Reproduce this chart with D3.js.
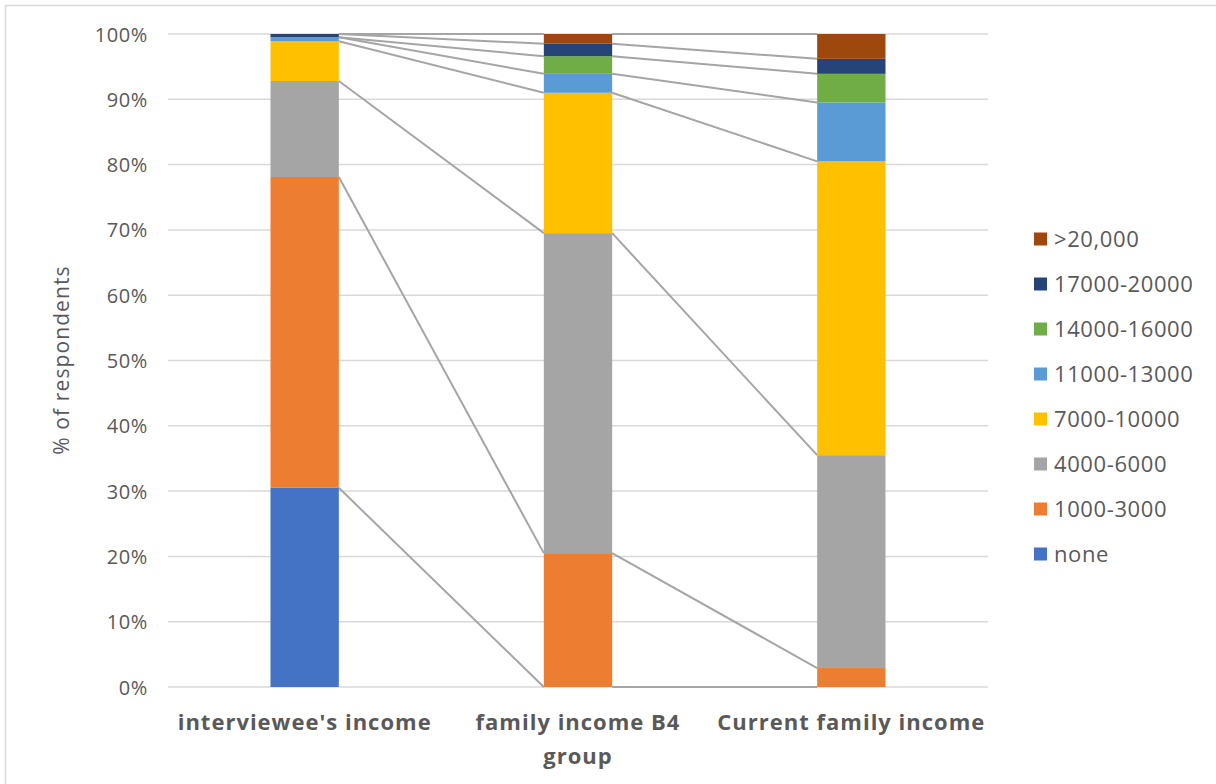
<!DOCTYPE html>
<html>
<head>
<meta charset="utf-8">
<script src="https://cdn.jsdelivr.net/npm/d3@7"></script>
<style>
  html, body { margin: 0; padding: 0; background: #fff; }
  svg { display: block; font-family: "Open Sans", "DejaVu Sans", sans-serif; }
</style>
</head>
<body>
<svg id="chart" width="1216" height="784"></svg>
<script>
// Income groups per bar (bottom to top), share of respondents in %
const categories = ["interviewee's income", "family income B4 group", "Current family income"];
const seriesNames = ["none", "1000-3000", "4000-6000", "7000-10000", "11000-13000", "14000-16000", "17000-20000", ">20,000"];
const seriesColors = ["#4472C4", "#ED7D31", "#A5A5A5", "#FFC000", "#5B9BD5", "#70AD47", "#264478", "#9E480E"];

const noneVals    = [30.5, 0.0, 0.0];
const inc1000     = [47.6, 20.5, 2.9];
const inc4000     = [14.7, 49.0, 32.6];
const inc7000     = [6.1, 21.5, 45.0];
const inc11000    = [0.6, 2.9, 9.0];
const inc14000    = [0.0, 2.7, 4.4];
const inc17000    = [0.5, 1.9, 2.3];
const inc20000    = [0.0, 1.5, 3.8];

const yTicks = [0, 10, 20, 30, 40, 50, 60, 70, 80, 90, 100];

const seriesValues = [noneVals, inc1000, inc4000, inc7000, inc11000, inc14000, inc17000, inc20000];

const rows = categories.map((c, i) => {
  const r = { cat: c };
  seriesNames.forEach((s, k) => { r[s] = seriesValues[k][i]; });
  return r;
});

const stacked = d3.stack().keys(seriesNames)(rows);

const svg = d3.select("#chart");

// outer frame
svg.append("rect")
  .attr("x", 5.5).attr("y", 5.5)
  .attr("width", 1230).attr("height", 800)
  .attr("fill", "none").attr("stroke", "#D9D9D9").attr("stroke-width", 1.5);

const x = d3.scaleBand().domain(categories).range([168, 988])
  .paddingInner(0.75).paddingOuter(0.375);
const y = d3.scaleLinear().domain([0, 100]).range([687, 34]);

// gridlines
svg.append("g").selectAll("line").data(yTicks).join("line")
  .attr("x1", 168).attr("x2", 988)
  .attr("y1", d => y(d)).attr("y2", d => y(d))
  .attr("stroke", "#D9D9D9").attr("stroke-width", 1.5);

// y axis labels
const yAxis = d3.axisLeft(y).tickValues(yTicks).tickFormat(d => d + "%").tickSize(0).tickPadding(0);
const yg = svg.append("g").attr("transform", "translate(148,0)").call(yAxis);
yg.select(".domain").remove();
yg.selectAll("text")
  .attr("fill", "#595959").attr("font-size", 20).attr("letter-spacing", 0.6)
  .attr("font-family", "Open Sans, sans-serif").attr("dy", "0.35em");

// y title
svg.append("text")
  .attr("transform", "translate(69,360) rotate(-90)")
  .attr("text-anchor", "middle")
  .attr("fill", "#595959").attr("font-size", 21).attr("letter-spacing", 1.1)
  .text("% of respondents");

// series connector lines between adjacent bars
const connectors = svg.append("g");
stacked.forEach(layer => {
  for (let i = 0; i < categories.length - 1; i++) {
    connectors.append("line")
      .attr("x1", x(categories[i]) + x.bandwidth())
      .attr("y1", y(layer[i][1]))
      .attr("x2", x(categories[i + 1]))
      .attr("y2", y(layer[i + 1][1]))
      .attr("stroke", "#A5A5A5").attr("stroke-width", 2);
  }
});

// stacked bars
svg.append("g").selectAll("g").data(stacked).join("g")
  .attr("fill", (d, i) => seriesColors[i])
  .selectAll("rect").data(d => d).join("rect")
  .attr("x", d => x(d.data.cat))
  .attr("width", x.bandwidth())
  .attr("y", d => y(d[1]))
  .attr("height", d => y(d[0]) - y(d[1]));

// category labels
const catLines = [["interviewee's income"], ["family income B4", "group"], ["Current family income"]];
const xl = svg.append("g");
categories.forEach((c, i) => {
  const t = xl.append("text")
    .attr("x", x(c) + x.bandwidth() / 2)
    .attr("y", 730)
    .attr("text-anchor", "middle")
    .attr("fill", "#595959").attr("font-size", 22).attr("font-weight", "bold")
    .attr("letter-spacing", 1);
  catLines[i].forEach((ln, j) => {
    t.append("tspan").attr("x", x(c) + x.bandwidth() / 2).attr("dy", j === 0 ? 0 : 34).text(ln);
  });
});

// legend (top entry is the top series)
const legendOrder = seriesNames.map((s, i) => i).reverse();
const lg = svg.append("g");
legendOrder.forEach((k, j) => {
  const ly = 239 + j * 45;
  lg.append("rect").attr("x", 1034).attr("y", ly - 6.5).attr("width", 13).attr("height", 13)
    .attr("fill", seriesColors[k]);
  lg.append("text").attr("x", 1054).attr("y", ly).attr("dy", "0.35em")
    .attr("fill", "#595959").attr("font-size", 22).attr("letter-spacing", 0.6)
    .text(seriesNames[k]);
});
</script>
</body>
</html>
